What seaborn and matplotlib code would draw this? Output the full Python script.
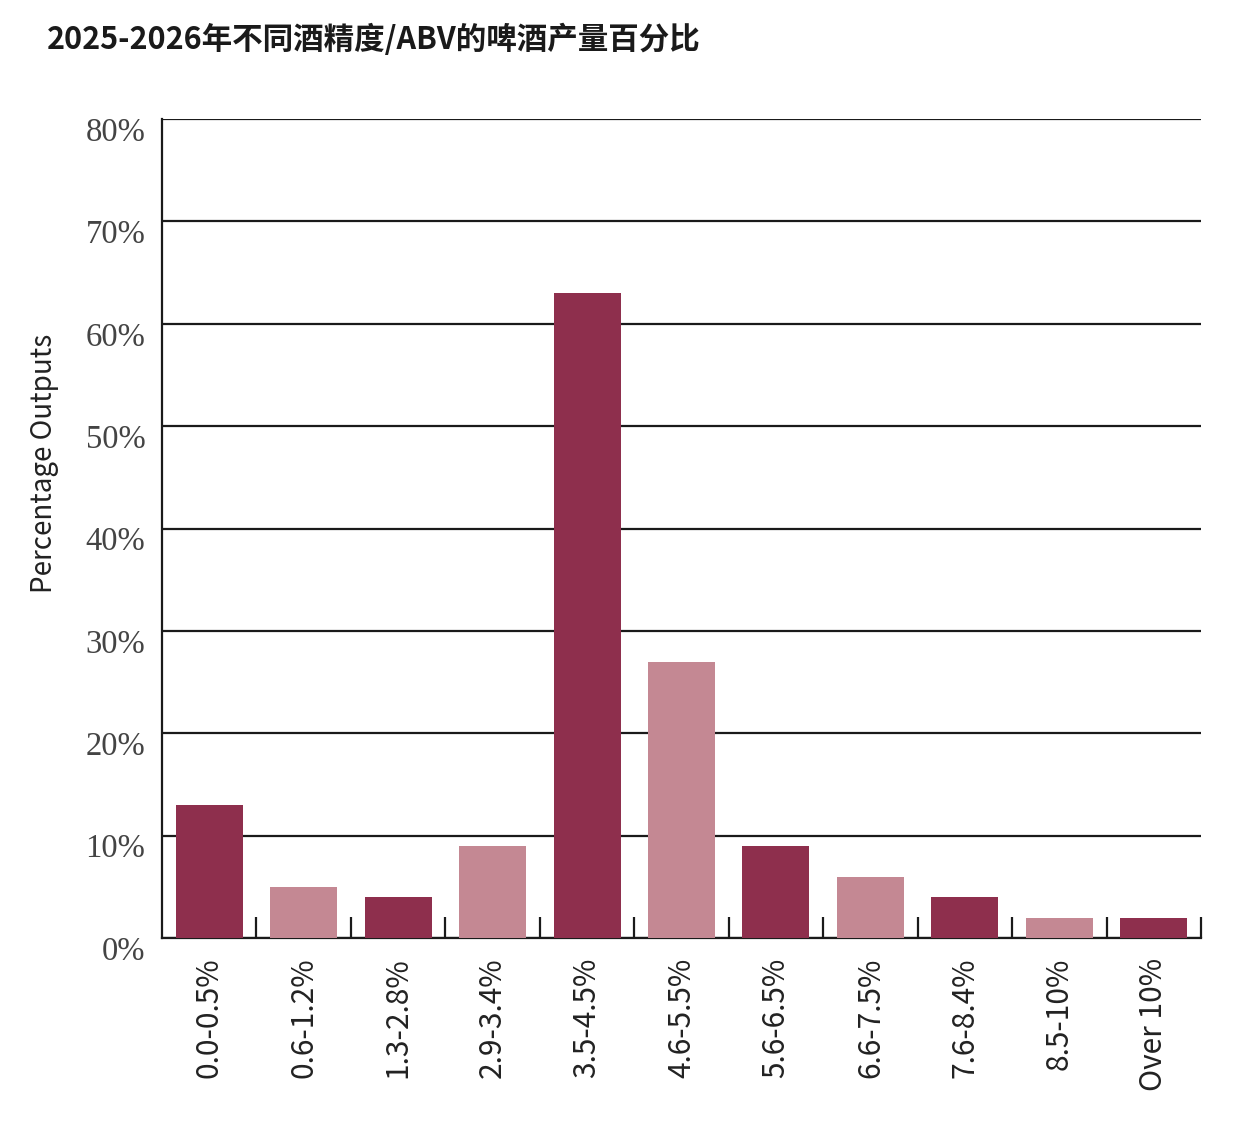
import numpy as np
import pandas as pd
import seaborn as sns
import matplotlib.pyplot as plt
from matplotlib.ticker import FixedLocator
from matplotlib.transforms import ScaledTranslation

# Data
abv_bands = ['0.0-0.5%', '0.6-1.2%', '1.3-2.8%', '2.9-3.4%', '3.5-4.5%', '4.6-5.5%',
             '5.6-6.5%', '6.6-7.5%', '7.6-8.4%', '8.5-10%', 'Over 10%']
output_pct = [13, 5, 4, 9, 63, 27, 9, 6, 4, 2, 2]
y_ticks = [0, 10, 20, 30, 40, 50, 60, 70, 80]

dark = '#8E2F4D'
light = '#C48893'
bar_colors = [dark, light, dark, light, dark, light, dark, light, dark, light, dark]

df = pd.DataFrame({'band': abv_bands, 'pct': output_pct})

sns.set_style('white')
plt.rcParams['font.family'] = ['Noto Sans CJK SC', 'DejaVu Sans']

fig = plt.figure(figsize=(12.39, 11.35), dpi=100)
ax = fig.add_axes([162 / 1239, 1 - 938 / 1135, (1201 - 162) / 1239, (938 - 119) / 1135])

sns.barplot(data=df, x='band', y='pct', hue='band', palette=bar_colors,
            legend=False, width=0.71, saturation=1, linewidth=0, ax=ax, zorder=3)

ax.set_xlim(-0.5, len(abv_bands) - 0.5)
ax.set_ylim(0, 80)

# horizontal grid lines
ax.set_yticks(y_ticks)
ax.set_yticklabels([f'{t}%' for t in y_ticks], family='Liberation Serif',
                   fontsize=23.5, color='#444444')
ax.yaxis.grid(True, color='#1a1a1a', linewidth=1.6, zorder=0)
ax.xaxis.grid(False)
ax.tick_params(axis='y', length=0, pad=12)
# labels sit a little below their grid line
shift = ScaledTranslation(0, -10 / 100, fig.dpi_scale_trans)
for lbl in ax.get_yticklabels():
    lbl.set_transform(lbl.get_transform() + shift)

# x ticks: labels under bars, small inward ticks at category boundaries
ax.tick_params(axis='x', which='major', length=0, pad=14, labelsize=21.5,
               labelcolor='#222222', labelrotation=90)
ax.xaxis.set_minor_locator(FixedLocator(np.arange(0.5, len(abv_bands), 1.0)))
ax.tick_params(axis='x', which='minor', bottom=True, direction='in', length=15,
               width=1.6, color='#1a1a1a')

for side in ['top', 'right']:
    ax.spines[side].set_visible(False)
for side in ['left', 'bottom']:
    ax.spines[side].set_color('#1a1a1a')
    ax.spines[side].set_linewidth(1.6)
    ax.spines[side].set_zorder(2)

ax.set_xlabel('')
ax.set_ylabel('Percentage Outputs', fontsize=20, color='#222222')
ax.yaxis.set_label_coords(-0.099, 0.58)

fig.text(47 / 1239, 1 - 40 / 1135, '2025-2026年不同酒精度/ABV的啤酒产量百分比',
         fontsize=22, fontweight='bold', color='#1a1a1a', va='center', ha='left')

fig.savefig('out.png', dpi=100)
